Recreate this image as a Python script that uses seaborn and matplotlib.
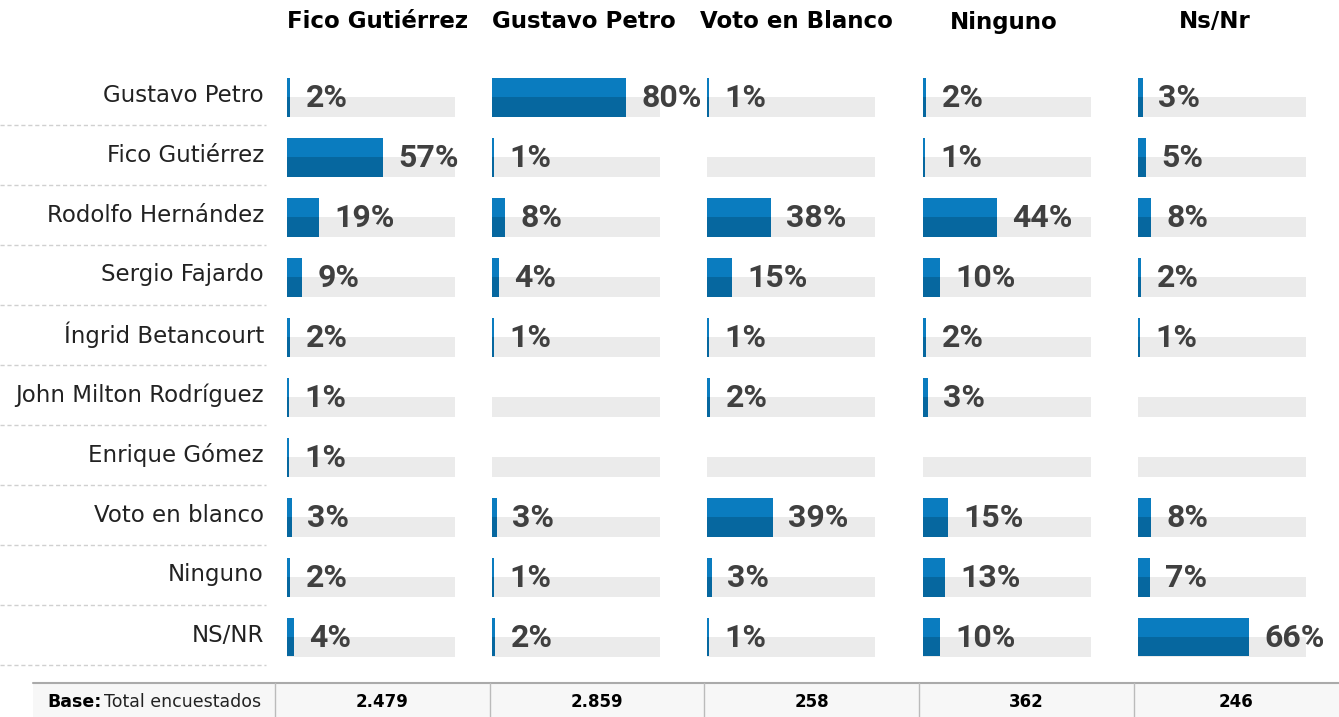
import numpy as np
import pandas as pd
import seaborn as sns
import matplotlib.pyplot as plt

sns.set_style('white')
plt.rcParams['font.family'] = ['DejaVu Sans']

candidatos = ['Gustavo Petro', 'Fico Gutiérrez', 'Rodolfo Hernández', 'Sergio Fajardo',
              'Íngrid Betancourt', 'John Milton Rodríguez', 'Enrique Gómez',
              'Voto en blanco', 'Ninguno', 'NS/NR']
columnas = ['Fico Gutiérrez', 'Gustavo Petro', 'Voto en Blanco', 'Ninguno', 'Ns/Nr']
bases = ['2.479', '2.859', '258', '362', '246']

fico = [2, 57, 19, 9, 2, 1, 1, 3, 2, 4]
petro = [80, 1, 8, 4, 1, np.nan, np.nan, 3, 1, 2]
blanco = [1, np.nan, 38, 15, 1, 2, np.nan, 39, 3, 1]
ninguno = [2, 1, 44, 10, 2, 3, np.nan, 15, 13, 10]
nsnr = [3, 5, 8, 2, 1, np.nan, np.nan, 8, 7, 66]
valores = [fico, petro, blanco, ninguno, nsnr]

azul_claro = '#0a7cbf'
azul_oscuro = '#06679f'
gris_barra = '#ebebeb'

W, H = 1339, 717
fig = plt.figure(figsize=(W / 100, H / 100), dpi=100)

# fondo en pixeles para textos y tabla
bg = fig.add_axes([0, 0, 1, 1])
bg.set_xlim(0, W)
bg.set_ylim(H, 0)
bg.axis('off')

inicio = [287, 492, 707, 923, 1138]
ancho = 168
top_px, bot_px = 67, 667
centro_titulo = [378, 584, 796, 1004, 1215]

y = np.arange(len(candidatos))
for j, vals in enumerate(valores):
    ax = fig.add_axes([inicio[j] / W, (H - bot_px) / H, ancho / W, (bot_px - top_px) / H])
    df = pd.DataFrame({'cand': candidatos, 'val': vals})
    ax.barh(y + 0.1625, 100, height=0.325, color=gris_barra, lw=0, zorder=0)
    sns.barplot(data=df, x='val', y='cand', order=candidatos, orient='h',
                color=azul_oscuro, width=0.65, saturation=1, linewidth=0, ax=ax, zorder=2)
    ax.barh(y - 0.1625, df['val'], height=0.325, color=azul_claro, lw=0, zorder=3)
    for i, v in enumerate(vals):
        if not np.isnan(v):
            ax.annotate(f'{int(v)}%', (v, i), xytext=(11, -1), textcoords='offset points',
                        ha='left', va='center', fontsize=23, fontweight='bold',
                        color='#404040', family=['Roboto', 'DejaVu Sans'], zorder=4)
    ax.set_xlim(0, 100)
    ax.set_ylim(len(candidatos) - 0.5, -0.5)
    ax.axis('off')
    bg.text(centro_titulo[j], 22, columnas[j], ha='center', va='center',
            fontsize=16.5, fontweight='bold', color='black')

# etiquetas de fila y separadores
for i, c in enumerate(candidatos):
    bg.text(264, 95 + 60 * i, c, ha='right', va='center', fontsize=16.5, color='#222222')
    bg.plot([0, 266], [125 + 60 * i, 125 + 60 * i], ls=(0, (3, 2)), color='#d0d0d0', lw=1)

# tabla de bases
bg.add_patch(plt.Rectangle((33, 683), W - 33, H - 683, facecolor='#f7f7f7', edgecolor='none'))
bg.plot([33, W], [683, 683], color='#aaaaaa', lw=1.5)
for xv in [275, 490, 704, 919, 1134]:
    bg.plot([xv, xv], [683, H], color='#bbbbbb', lw=1)
bg.text(47, 702, 'Base:', ha='left', va='center', fontsize=12.5, fontweight='bold', color='black')
bg.text(104, 702, 'Total encuestados', ha='left', va='center', fontsize=12.5, color='#222222')
bordes = [275, 490, 704, 919, 1134, W]
for j, b in enumerate(bases):
    bg.text((bordes[j] + bordes[j + 1]) / 2, 702, b, ha='center', va='center',
            fontsize=12, fontweight='bold', color='black')

fig.savefig('out.png', dpi=100)
